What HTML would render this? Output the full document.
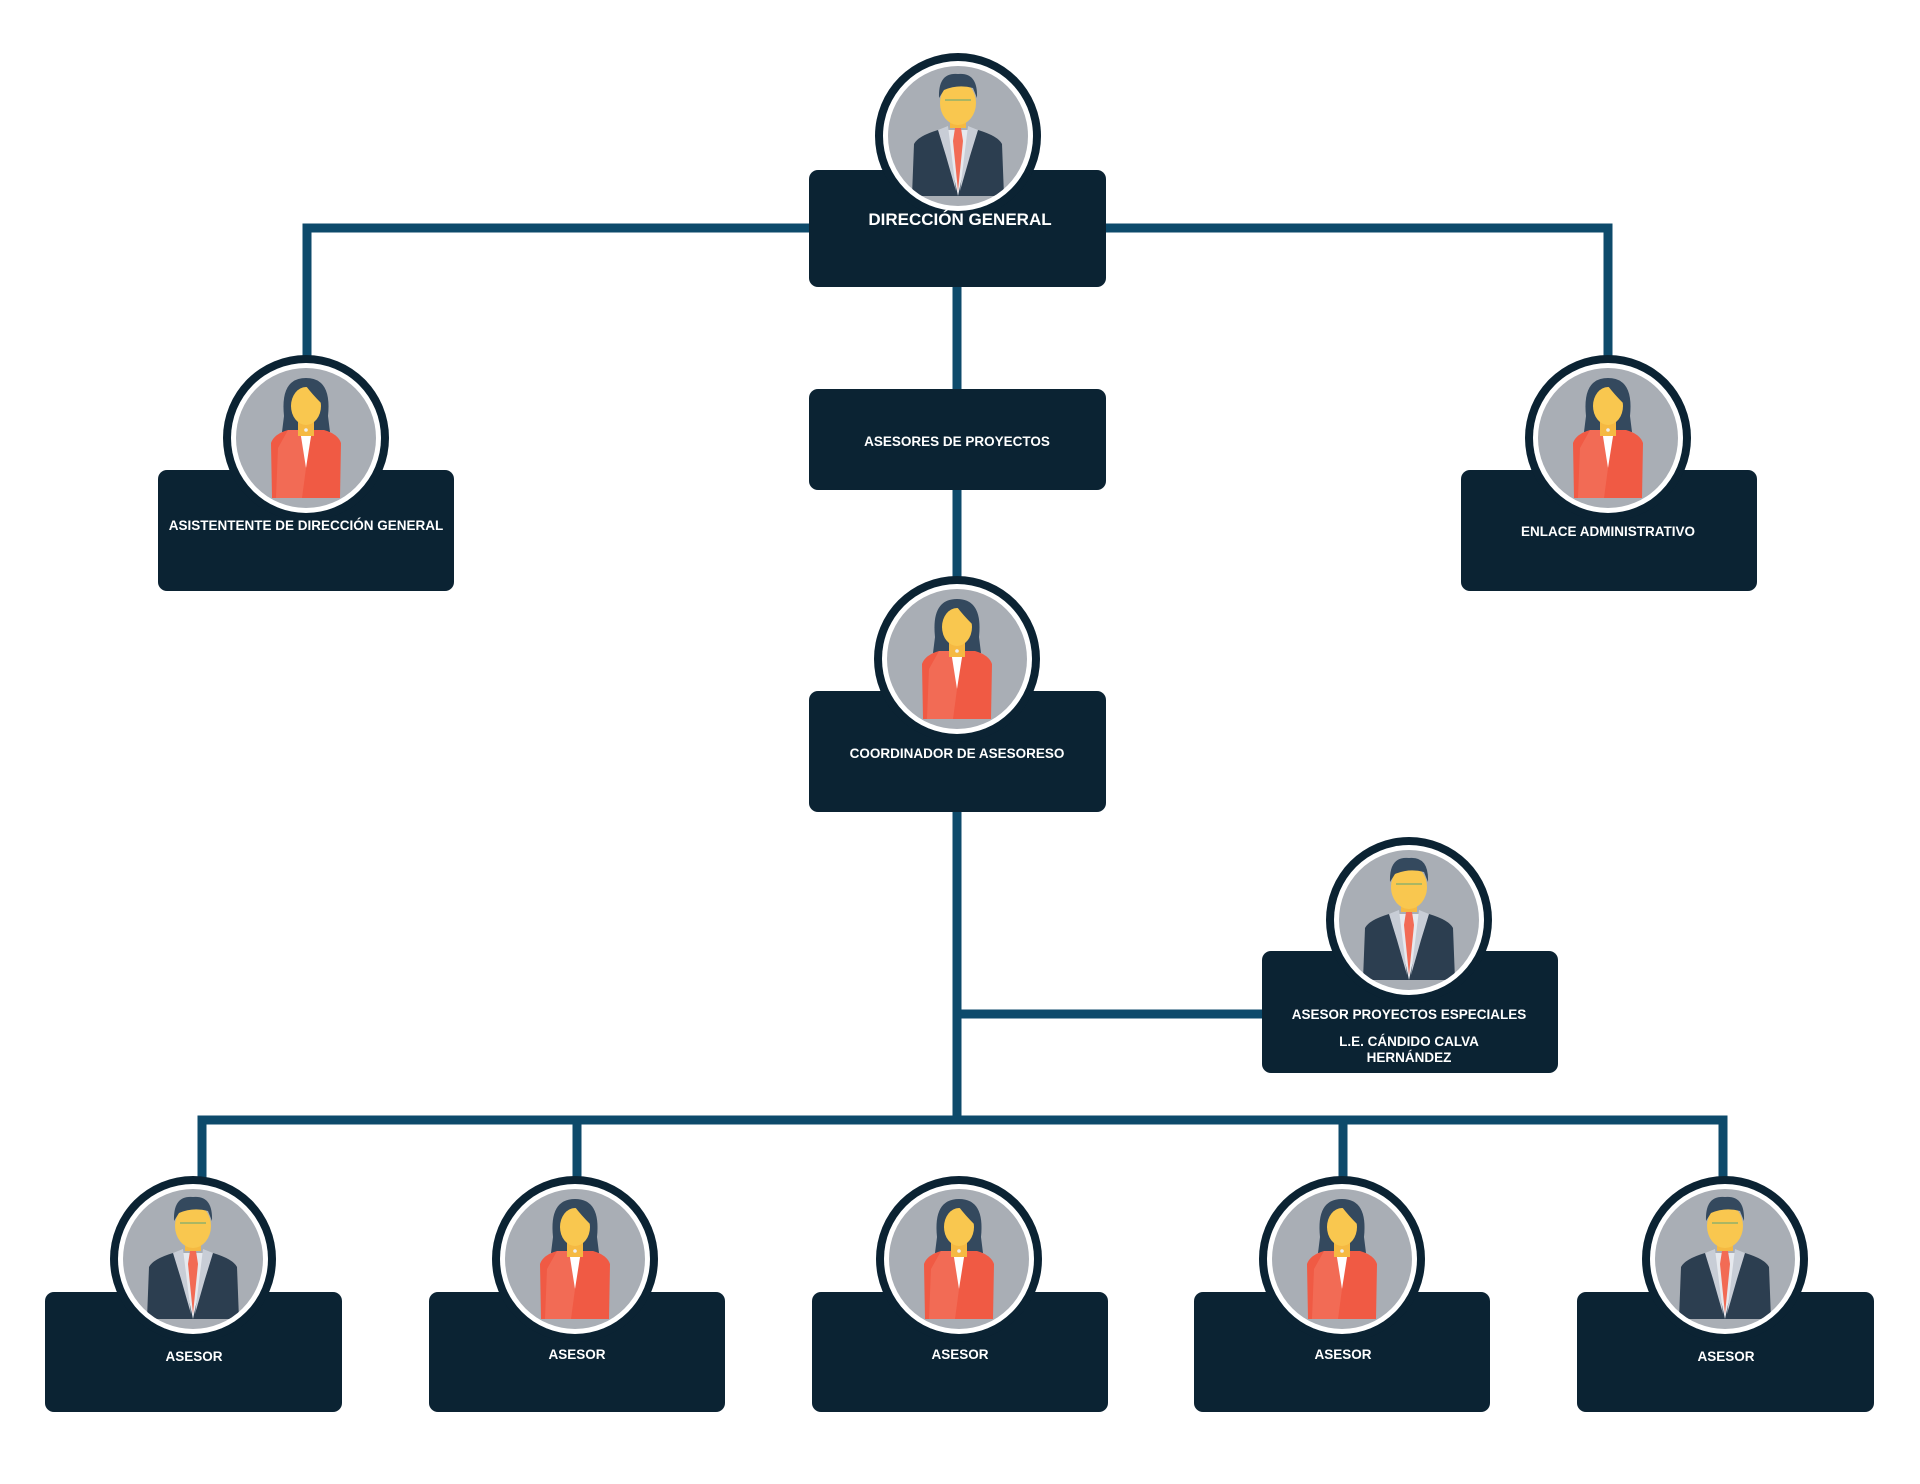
<!DOCTYPE html>
<html><head><meta charset="utf-8"><style>
html,body{margin:0;padding:0;background:#fff;}
svg{display:block}
text{font-family:"Liberation Sans",Arial,sans-serif;fill:#fff;font-weight:bold;text-anchor:middle}
</style></head><body>
<svg width="1920" height="1484" viewBox="0 0 1920 1484" xmlns="http://www.w3.org/2000/svg">
<defs>
<clipPath id="cc"><circle cx="0" cy="0" r="70"/></clipPath>
<g id="base">
<circle r="83" fill="#0b2333"/><circle r="75" fill="#fff"/><circle r="70" fill="#a9aeb5"/>
</g>
<g id="man">
<use href="#base"/>
<g clip-path="url(#cc)">
<path d="M-46,60 L-44,8 Q-40,0 -20,-6 L20,-6 Q40,0 44,8 L46,60 Z" fill="#2c3e50"/>
<path d="M-14,-6 L0,60 L14,-6 Z" fill="#e6e9ee"/>
<path d="M-20,-6 L-10,-10 L-2,55 L-12,20 Z" fill="#c8cdd6"/>
<path d="M20,-6 L10,-10 L2,55 L12,20 Z" fill="#c8cdd6"/>
<path d="M-3,-8 L3,-8 L5,5 L0,55 L-5,5 Z" fill="#f26b55"/>
<rect x="-8" y="-22" width="16" height="14" fill="#f5b942"/>
<ellipse cx="0" cy="-33" rx="18" ry="22" fill="#f9c74f"/>
<path d="M-19,-38 Q-20,-64 0,-62 Q20,-64 19,-38 L15,-48 Q0,-52 -14,-46 Z" fill="#34495e"/>
<line x1="-13" y1="-36" x2="13" y2="-36" stroke="#8fb06a" stroke-width="1.5"/>
</g></g>
<g id="woman">
<use href="#base"/>
<g clip-path="url(#cc)">
<path d="M-22,-22 Q-26,-60 0,-60 Q26,-60 22,-22 L24,-6 L-24,-6 Z" fill="#34495e"/>
<path d="M-34,60 L-35,5 Q-32,-4 -18,-8 L18,-8 Q32,-4 35,5 L34,60 Z" fill="#f05a44"/>
<path d="M-10,-8 L10,-8 L8,20 L0,30 L-8,20 Z" fill="#fff"/>
<path d="M-18,-8 L-6,-8 L0,30 L-4,60 L-30,60 L-28,10 Z" fill="#f26b55"/>
<path d="M18,-8 L6,-8 L0,30 L4,60 L30,60 L28,10 Z" fill="#f05a44"/>
<rect x="-8" y="-18" width="16" height="16" fill="#f5b942"/>
<circle cx="0" cy="-8" r="1.8" fill="#eee"/>
<ellipse cx="0" cy="-32" rx="15" ry="19" fill="#f9c74f"/>
<path d="M-16,-34 Q-14,-54 0,-52 Q6,-44 16,-34 Q14,-58 0,-58 Q-18,-56 -16,-34 Z" fill="#34495e"/>
</g></g>
</defs>
<g stroke="#0d4a6b" stroke-width="9" fill="none">
<path d="M307,360 V228 H1608 V360"/>
<path d="M957,287 V1120"/>
<path d="M957,1014 H1262"/>
<path d="M202,1185 V1120 H1723 V1185"/>
<path d="M577,1120 V1185 M1343,1120 V1185"/>
</g>
<g fill="#0b2333">
<rect x="809" y="170" width="297" height="117" rx="9"/>
<rect x="809" y="389" width="297" height="101" rx="9"/>
<rect x="158" y="470" width="296" height="121" rx="9"/>
<rect x="1461" y="470" width="296" height="121" rx="9"/>
<rect x="809" y="691" width="297" height="121" rx="9"/>
<rect x="1262" y="951" width="296" height="122" rx="9"/>
<rect x="45" y="1292" width="297" height="120" rx="9"/>
<rect x="429" y="1292" width="296" height="120" rx="9"/>
<rect x="812" y="1292" width="296" height="120" rx="9"/>
<rect x="1194" y="1292" width="296" height="120" rx="9"/>
<rect x="1577" y="1292" width="297" height="120" rx="9"/>
</g>
<use href="#man" x="958" y="136"/>
<use href="#woman" x="306" y="438"/>
<use href="#woman" x="1608" y="438"/>
<use href="#woman" x="957" y="659"/>
<use href="#man" x="1409" y="920"/>
<use href="#man" x="193" y="1259"/>
<use href="#woman" x="575" y="1259"/>
<use href="#woman" x="959" y="1259"/>
<use href="#woman" x="1342" y="1259"/>
<use href="#man" x="1725" y="1259"/>
<text x="960" y="225" font-size="17">DIRECCIÓN GENERAL</text>
<text x="957" y="446" font-size="13.5">ASESORES DE PROYECTOS</text>
<text x="306" y="530" font-size="13.5">ASISTENTENTE DE DIRECCIÓN GENERAL</text>
<text x="1608" y="536" font-size="13.5">ENLACE ADMINISTRATIVO</text>
<text x="957" y="758" font-size="13.5">COORDINADOR DE ASESORESO</text>
<text x="1409" y="1019" font-size="13.5">ASESOR PROYECTOS ESPECIALES</text>
<text x="1409" y="1046" font-size="13.5" font-weight="normal">L.E. CÁNDIDO CALVA</text>
<text x="1409" y="1062" font-size="13.5" font-weight="normal">HERNÁNDEZ</text>
<text x="194" y="1361" font-size="13.5">ASESOR</text>
<text x="577" y="1359" font-size="13.5">ASESOR</text>
<text x="960" y="1359" font-size="13.5">ASESOR</text>
<text x="1343" y="1359" font-size="13.5">ASESOR</text>
<text x="1726" y="1361" font-size="13.5">ASESOR</text>
</svg>
</body></html>
